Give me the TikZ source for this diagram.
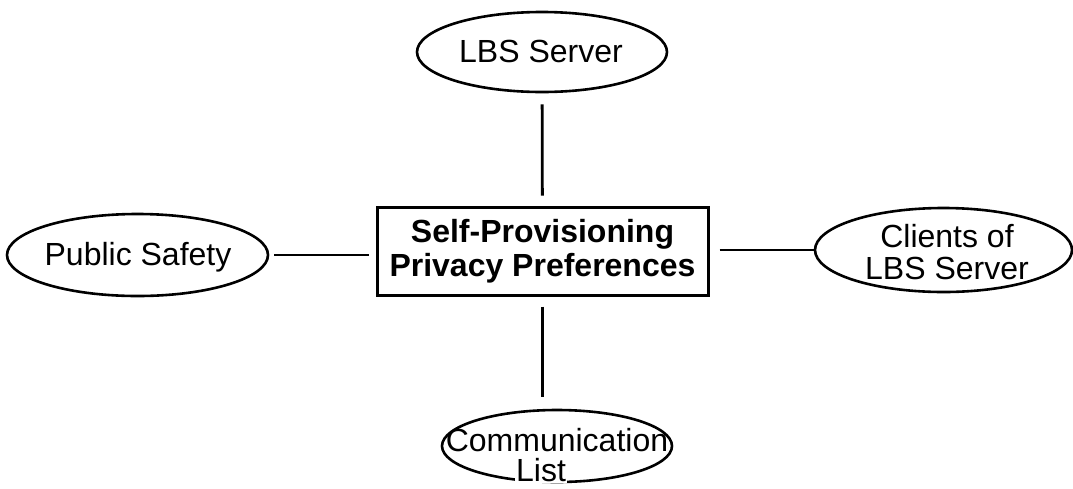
\documentclass[tikz,border=0pt]{standalone}
\usepackage{fontspec}
\setmainfont{Liberation Sans}
\usetikzlibrary{shapes.geometric}
\begin{document}
\begin{tikzpicture}[x=1pt,y=-1pt,
  txt/.style={font=\fontsize{32pt}{34pt}\selectfont},
  bubble/.style={ellipse, draw, line width=2.6pt, inner sep=0pt},
  mainbox/.style={rectangle, draw, line width=3pt, minimum width=331pt,
    minimum height=88pt, inner sep=0pt, align=center,
    font=\fontsize{32pt}{34pt}\selectfont\bfseries},
  lbl/.style={txt, inner sep=0pt, anchor=base},
  link/.style={line width=2.8pt}]
\useasboundingbox (0,0) rectangle (1073,488);

% central box
\node[mainbox] (core) at (542.5,251) {Self-Provisioning\\Privacy Preferences};

% surrounding ellipses
\node[bubble, minimum width=250pt, minimum height=80pt] (lbs) at (542,52) {};
\node[bubble, minimum width=261pt, minimum height=82pt] (ps) at (137.5,255) {};
\node[bubble, minimum width=257pt, minimum height=84pt] (cl) at (943.5,250) {};
\node[bubble, minimum width=230pt, minimum height=72pt] (comm) at (557,446) {};

% labels
\node[lbl] (lbsT) at (541,62) {LBS Server};
\node[lbl] (psT) at (138,265) {Public Safety};
\node[txt, inner sep=0pt, align=center, font=\fontsize{32pt}{32pt}\selectfont] (clT) at (947,252.3) {Clients of\\LBS Server};
\node[lbl] (commT) at (557,451) {Communication};
\node[lbl, fill=white, inner sep=1.5pt] (listT) at (541,481) {List};

% connectors
\draw[link, shorten <=11pt, shorten >=10pt] (lbs) -- (core);
\draw[link, shorten <=10pt, shorten >=12pt] (core.south) -- (core.south |- comm.north);
\draw[link, shorten <=5pt, shorten >=7pt] (ps.east) -- (ps.east -| core.west);
\draw[link, shorten <=10pt] (cl.west -| core.east) -- (cl.west);
\end{tikzpicture}
\end{document}
